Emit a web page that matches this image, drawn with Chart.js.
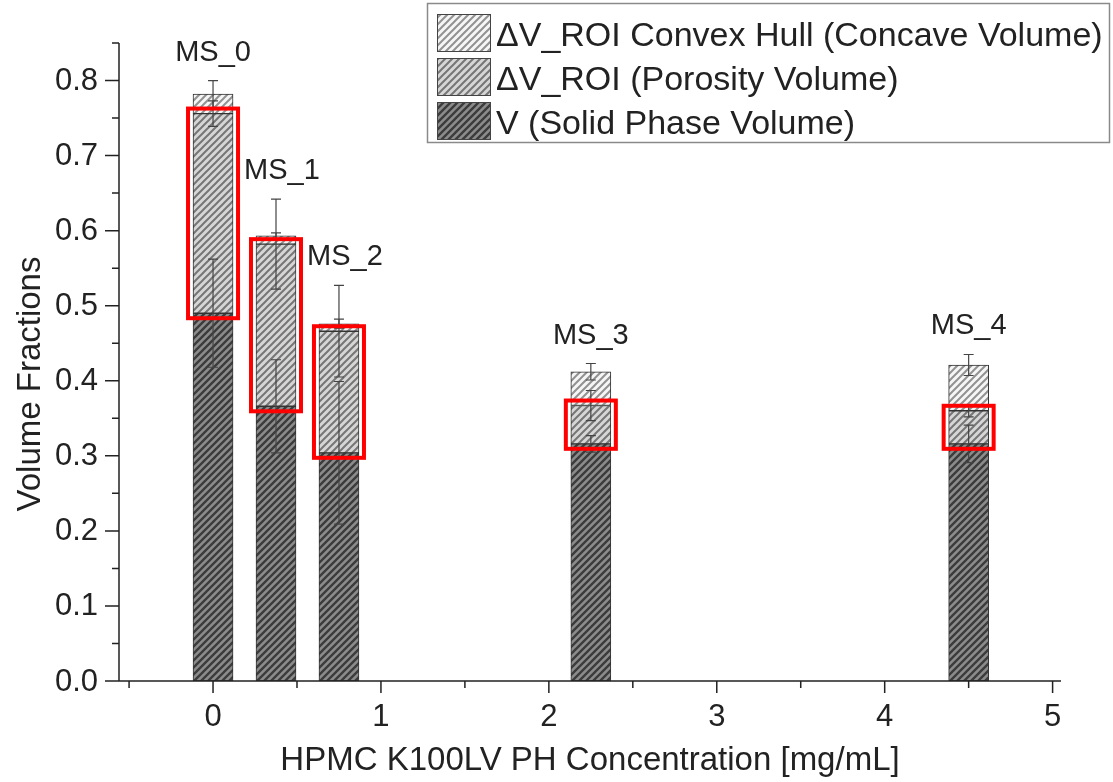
<!DOCTYPE html>
<html>
<head>
<meta charset="utf-8">
<script src="https://cdn.jsdelivr.net/npm/chart.js@4/dist/chart.umd.min.js"></script>
<style>
  body { margin: 0; background: #fff; }
  #wrap { width: 1113px; height: 782px; }
</style>
</head>
<body>
<div id="wrap"><canvas id="volumeChart" width="1113" height="782"></canvas></div>
<script>
// sample data
const sampleNames = ['MS_0', 'MS_1', 'MS_2', 'MS_3', 'MS_4'];
const concentrations = [0, 0.375, 0.75, 2.25, 4.5];
const solidVolume = [0.490, 0.366, 0.304, 0.316, 0.316];
const porosityVolume = [0.266, 0.216, 0.162, 0.051, 0.044];
const concaveVolume = [0.026, 0.011, 0.010, 0.045, 0.061];
const solidErr = [0.072, 0.062, 0.095, 0.011, 0.025];
const porosityErr = [0.017, 0.060, 0.061, 0.020, 0.008];
const concaveErr = [0.018, 0.004, 0.006, 0.011, 0.014];
const xTicks = [0, 1, 2, 3, 4, 5];
const yTicks = [0, 0.1, 0.2, 0.3, 0.4, 0.5, 0.6, 0.7, 0.8];
const legendLabels = [
  '\u0394V_ROI Convex Hull (Concave Volume)',
  '\u0394V_ROI (Porosity Volume)',
  'V (Solid Phase Volume)'
];
const xTitle = 'HPMC K100LV PH Concentration [mg/mL]';
const yTitle = 'Volume Fractions';

const FONT = '"Liberation Sans", Arial, sans-serif';

// diagonal hatch fill like the Origin pattern
function hatch(bg, line, size, width) {
  const c = document.createElement('canvas');
  c.width = size; c.height = size;
  const g = c.getContext('2d');
  g.fillStyle = bg;
  g.fillRect(0, 0, size, size);
  g.strokeStyle = line;
  g.lineWidth = width;
  g.beginPath();
  g.moveTo(-1, size + 1); g.lineTo(size + 1, -1);
  g.moveTo(-2, 2); g.lineTo(2, -2);
  g.moveTo(size - 2, size + 2); g.lineTo(size + 2, size - 2);
  g.stroke();
  return g.createPattern(c, 'repeat');
}

const solidFill = hatch('#8c8c8c', '#3c3c3c', 7, 2.4);
const porosityFill = hatch('#d6d6d6', '#767676', 7, 2);
const concaveFill = hatch('#f6f6f6', '#929292', 7, 2);
const legendFills = [concaveFill, porosityFill, solidFill];

function pts(values) {
  return concentrations.map((x, i) => ({ x: x, y: values[i] }));
}

const layers = [solidVolume, porosityVolume, concaveVolume];
const layerErr = [solidErr, porosityErr, concaveErr];

function stackTop(layer, i) {
  let s = 0;
  for (let k = 0; k <= layer; k++) s += layers[k][i];
  return s;
}

const errorBars = {
  id: 'errorBars',
  afterDatasetsDraw(chart) {
    const ctx = chart.ctx;
    const y = chart.scales.y;
    ctx.save();
    ctx.strokeStyle = '#444';
    ctx.lineWidth = 1.2;
    layers.forEach((vals, l) => {
      const meta = chart.getDatasetMeta(l);
      vals.forEach((v, i) => {
        const bx = meta.data[i].x;
        const top = stackTop(l, i);
        const y1 = y.getPixelForValue(top + layerErr[l][i]);
        const y2 = y.getPixelForValue(top - layerErr[l][i]);
        ctx.beginPath();
        ctx.moveTo(bx, y1); ctx.lineTo(bx, y2);
        ctx.moveTo(bx - 5, y1); ctx.lineTo(bx + 5, y1);
        ctx.moveTo(bx - 5, y2); ctx.lineTo(bx + 5, y2);
        ctx.stroke();
      });
    });
    // red frames round the porosity part
    ctx.strokeStyle = '#ff0000';
    ctx.lineWidth = 4;
    const meta = chart.getDatasetMeta(1);
    const frameRight = [];
    concentrations.forEach((c, i) => {
      const bar = meta.data[i];
      const yt = y.getPixelForValue(stackTop(1, i));
      const yb = y.getPixelForValue(stackTop(0, i));
      ctx.strokeRect(bar.x - bar.width / 2 - 5, yt - 5, bar.width + 10, yb - yt + 10);
      frameRight.push(bar.x + bar.width / 2 + 7);
    });
    // sample labels, pushed right so they clear the previous frame
    ctx.fillStyle = '#222';
    ctx.font = '29px ' + FONT;
    ctx.textAlign = 'center';
    ctx.textBaseline = 'alphabetic';
    sampleNames.forEach((name, i) => {
      let hi = 0;
      layers.forEach((vals, l) => { hi = Math.max(hi, stackTop(l, i) + layerErr[l][i]); });
      const half = ctx.measureText(name).width / 2;
      let lx = meta.data[i].x;
      if (i > 0) lx = Math.max(lx, frameRight[i - 1] + 4 + half);
      ctx.fillText(name, lx, y.getPixelForValue(hi) - 20);
    });
    ctx.restore();
  }
};

const axesAndLegend = {
  id: 'axesAndLegend',
  afterDraw(chart) {
    const ctx = chart.ctx;
    const xs = chart.scales.x, ys = chart.scales.y;
    const a = chart.chartArea;
    ctx.save();
    ctx.strokeStyle = '#222';
    ctx.fillStyle = '#222';
    ctx.lineWidth = 1.5;
    ctx.beginPath();
    ctx.moveTo(a.left, a.top); ctx.lineTo(a.left, a.bottom); ctx.lineTo(a.right, a.bottom);
    // y ticks
    yTicks.forEach(v => {
      const p = ys.getPixelForValue(v);
      ctx.moveTo(a.left - 14, p); ctx.lineTo(a.left, p);
      const m = ys.getPixelForValue(v + 0.05);
      ctx.moveTo(a.left - 7, m); ctx.lineTo(a.left, m);
    });
    // x ticks
    xTicks.forEach(v => {
      const p = xs.getPixelForValue(v);
      ctx.moveTo(p, a.bottom); ctx.lineTo(p, a.bottom + 12);
      const m = xs.getPixelForValue(v - 0.5);
      ctx.moveTo(m, a.bottom); ctx.lineTo(m, a.bottom + 7);
    });
    ctx.stroke();

    ctx.font = '31px ' + FONT;
    ctx.textAlign = 'right';
    ctx.textBaseline = 'middle';
    yTicks.forEach(v => ctx.fillText(v.toFixed(1), a.left - 21, ys.getPixelForValue(v) + 1));
    ctx.textAlign = 'center';
    xTicks.forEach(v => ctx.fillText(String(v), xs.getPixelForValue(v), a.bottom + 36));

    ctx.font = '33px ' + FONT;
    ctx.textBaseline = 'alphabetic';
    ctx.fillText(xTitle, (a.left + a.right) / 2, 770);
    ctx.save();
    ctx.translate(40, 384);
    ctx.rotate(-Math.PI / 2);
    ctx.fillText(yTitle, 0, 0);
    ctx.restore();

    // legend
    ctx.lineWidth = 1.5;
    ctx.strokeStyle = '#8a8a8a';
    ctx.strokeRect(427.5, 3.5, 682, 139);
    ctx.font = '34px ' + FONT;
    ctx.textAlign = 'left';
    legendLabels.forEach((t, k) => {
      const top = 14 + k * 44;
      ctx.fillStyle = legendFills[k];
      ctx.fillRect(437, top, 54, 38);
      ctx.strokeStyle = '#444';
      ctx.lineWidth = 1;
      ctx.strokeRect(437.5, top + 0.5, 53, 37);
      ctx.fillStyle = '#222';
      ctx.fillText(t, 496, top + 32);
    });
    ctx.restore();
  }
};

new Chart(document.getElementById('volumeChart').getContext('2d'), {
  type: 'bar',
  data: {
    datasets: [
      { label: legendLabels[2], data: pts(solidVolume), backgroundColor: solidFill, stack: 'v' },
      { label: legendLabels[1], data: pts(porosityVolume), backgroundColor: porosityFill, stack: 'v' },
      { label: legendLabels[0], data: pts(concaveVolume), backgroundColor: concaveFill, stack: 'v' }
    ]
  },
  options: {
    responsive: false,
    animation: false,
    devicePixelRatio: 1,
    datasets: {
      bar: { barThickness: 40, borderColor: '#333', borderWidth: 1, borderSkipped: false }
    },
    layout: { padding: { left: 119, top: 43, right: 52, bottom: 101 } },
    scales: {
      x: { type: 'linear', min: -0.56, max: 5.05, offset: false, display: false },
      y: { type: 'linear', min: 0, max: 0.85, stacked: true, display: false }
    },
    plugins: {
      legend: { display: false },
      tooltip: { enabled: false }
    }
  },
  plugins: [errorBars, axesAndLegend]
});
</script>
</body>
</html>
